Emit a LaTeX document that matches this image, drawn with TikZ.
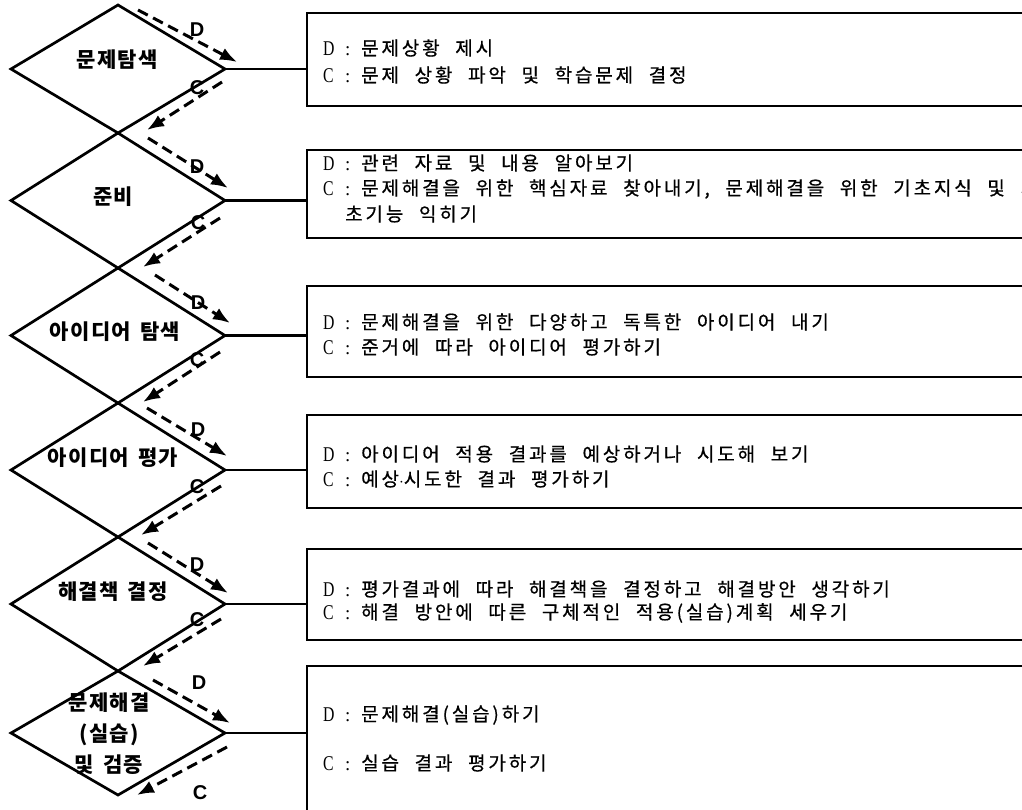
\documentclass[tikz,border=0pt]{standalone}
\usepackage{fontspec}
\usepackage{graphicx}
\setmainfont{Liberation Serif}
\newfontfamily\kr{Noto Sans CJK KR}[LetterSpace=15,WordSpace=2.2,FakeBold=0.6]
\newfontfamily\krb{Noto Sans CJK KR}[LetterSpace=6,WordSpace=1.5]
\newfontfamily\lsans{Liberation Sans}
\usetikzlibrary{arrows.meta,shapes.geometric}
\newcommand\rowlab[2]{\makebox[22pt][l]{\fontsize{21}{21}\selectfont\scalebox{0.75}[1]{#1}}\makebox[16pt][l]{:}{\kr #2}}
\begin{document}
\begin{tikzpicture}[x=1pt,y=-1pt,
  dia/.style={draw, shape=diamond, line width=2.7pt, minimum width=214pt, inner sep=0pt, outer sep=0pt},
  dtext/.style={font=\fontsize{21}{31}\selectfont\krb\bfseries, align=center, inner sep=0pt},
  bx/.style={draw, line width=2.1pt, anchor=north west, minimum width=760pt, inner sep=0pt, outer sep=0pt},
  btext/.style={anchor=west, inner sep=0pt, font=\fontsize{19}{20}\selectfont},
  link/.style={line width=2.1pt},
  flow/.style={line width=3pt, dash pattern=on 11pt off 6pt, -{Latex[length=17pt,width=13pt]}},
  lab/.style={font=\lsans\bfseries\fontsize{20}{20}\selectfont, inner sep=0pt}]
\useasboundingbox (0,0) rectangle (1022,809);
\clip (0,0) rectangle (1022,809);

% diamonds
\node[dia, minimum height=128pt] (d1) at (118,69) {};
\node[dia, minimum height=135pt] (d2) at (118,200.5) {};
\node[dia, minimum height=135pt] (d3) at (118,335.5) {};
\node[dia, minimum height=134pt] (d4) at (118,470) {};
\node[dia, minimum height=134pt] (d5) at (118,604) {};
\node[dia, minimum height=124pt] (d6) at (118,733) {};

\node[dtext] (t1) at (117,60) {문제탐색};
\node[dtext] (t2) at (113,197) {준비};
\node[dtext] (t3) at (115,332) {아이디어 탐색};
\node[dtext] (t4) at (113,458) {아이디어 평가};
\node[dtext] (t5) at (113,592) {해결책 결정};
\node[dtext] (t6) at (109,734) {문제해결\\(실습)\\및 검증};

% boxes
\node[bx, minimum height=93pt] (b1) at (307,13) {};
\node[bx, minimum height=88pt] (b2) at (307,150) {};
\node[bx, minimum height=91pt] (b3) at (307,286) {};
\node[bx, minimum height=93pt] (b4) at (307,415) {};
\node[bx, minimum height=91pt] (b5) at (307,549) {};
\node[bx, minimum height=200pt] (b6) at (307,666) {};

% connectors
\foreach \i in {1,...,6} {
  \draw[link] (d\i.east) -- (d\i.east -| b\i.west);
}

% box texts
\node[btext] (b1d) at (323,48) {\rowlab{D}{문제상황 제시}};
\node[btext] (b1c) at (323,75) {\rowlab{C}{문제 상황 파악 및 학습문제 결정}};
\node[btext] (b2d) at (323,163) {\rowlab{D}{관련 자료 및 내용 알아보기}};
\node[btext] (b2c) at (323,189) {\rowlab{C}{문제해결을 위한 핵심자료 찾아내기, 문제해결을 위한 기초지식 및 기}};
\node[btext] (b2e) at (345,214) {\kr 초기능 익히기};
\node[btext] (b3d) at (323,322) {\rowlab{D}{문제해결을 위한 다양하고 독특한 아이디어 내기}};
\node[btext] (b3c) at (323,347) {\rowlab{C}{준거에 따라 아이디어 평가하기}};
\node[btext] (b4d) at (323,454) {\rowlab{D}{아이디어 적용 결과를 예상하거나 시도해 보기}};
\node[btext] (b4c) at (323,479) {\rowlab{C}{예상$\cdot$시도한 결과 평가하기}};
\node[btext] (b5d) at (323,589) {\rowlab{D}{평가결과에 따라 해결책을 결정하고 해결방안 생각하기}};
\node[btext] (b5c) at (323,613) {\rowlab{C}{해결 방안에 따른 구체적인 적용(실습)계획 세우기}};
\node[btext] (b6d) at (323,715) {\rowlab{D}{문제해결(실습)하기}};
\node[btext] (b6c) at (323,763) {\rowlab{C}{실습 결과 평가하기}};

% D / C flow arrows
\coordinate (p1a) at (138,10);  \coordinate (p1b) at (237,62);
\coordinate (p2a) at (148,138); \coordinate (p2b) at (228,188);
\coordinate (p3a) at (155,275); \coordinate (p3b) at (230,323);
\coordinate (p4a) at (147,408); \coordinate (p4b) at (227,456);
\coordinate (p5a) at (148,543); \coordinate (p5b) at (228,593);
\coordinate (p6a) at (153,680); \coordinate (p6b) at (230,723);
\coordinate (q1a) at (222,82);  \coordinate (q1b) at (147,130);
\coordinate (q2a) at (220,218); \coordinate (q2b) at (143,267);
\coordinate (q3a) at (220,352); \coordinate (q3b) at (143,402);
\coordinate (q4a) at (221,486); \coordinate (q4b) at (141,535);
\coordinate (q5a) at (221,619); \coordinate (q5b) at (143,666);
\coordinate (q6a) at (227,747); \coordinate (q6b) at (137,795);
\foreach \i in {1,...,6} {
  \draw[flow] (p\i a) -- (p\i b);
  \draw[flow] (q\i a) -- (q\i b);
}

\node[lab] (l1d) at (197,30) {D};
\node[lab] (l1c) at (197,88) {C};
\node[lab] (l2d) at (197,167) {D};
\node[lab] (l2c) at (198,223) {C};
\node[lab] (l3d) at (198,303) {D};
\node[lab] (l3c) at (197,360) {C};
\node[lab] (l4d) at (198,430) {D};
\node[lab] (l4c) at (197,487) {C};
\node[lab] (l5d) at (197,565) {D};
\node[lab] (l5c) at (197,620) {C};
\node[lab] (l6d) at (199,683) {D};
\node[lab] (l6c) at (200,793) {C};
\end{tikzpicture}
\end{document}
